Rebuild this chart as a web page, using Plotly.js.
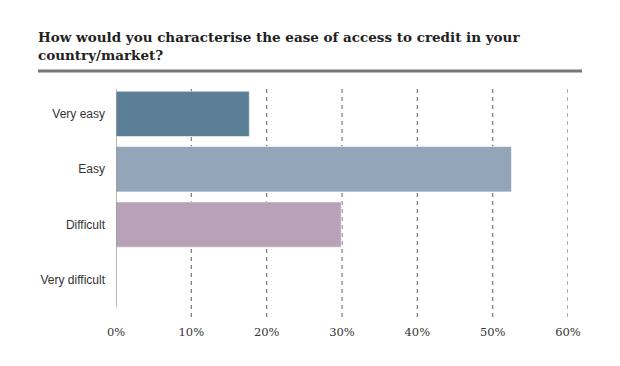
<!DOCTYPE html>
<html>
<head>
<meta charset="utf-8">
<script src="https://cdn.plot.ly/plotly-3.0.1.min.js"></script>
<style>html,body{margin:0;padding:0;background:#fff;}#chart{width:620px;height:366px;}</style>
</head>
<body>
<div id="chart"></div>
<script>
const categories = ["Very easy", "Easy", "Difficult", "Very difficult"];
const values = [17.7, 52.5, 29.9, 0];
const barColors = ["#5b7f97", "#93a5b8", "#b8a2b7", "#b8a2b7"];
const tickValues = [0, 10, 20, 30, 40, 50, 60];
const tickLabels = ["0%", "10%", "20%", "30%", "40%", "50%", "60%"];
const titleText = "How would you characterise the ease of access to credit in your<br>country/market?";

const gridShapes = tickValues.filter(v => v > 0).map(v => ({
  type: "line", xref: "x", yref: "paper", x0: v, x1: v, y0: 0, y1: 1,
  line: {color: "#7a7a7a", width: 1.2, dash: "4px,4px"}, layer: "below"
}));

const shapes = gridShapes.concat([
  {type: "line", xref: "x", yref: "y", x0: 0, x1: 0, y0: -0.45, y1: 3.5,
   line: {color: "#8a8a8a", width: 1.2}, layer: "above"},
  {type: "line", xref: "paper", yref: "paper", x0: -0.1726, x1: 1.031, y0: 1.079, y1: 1.079,
   line: {color: "#777777", width: 3}}
]);

const data = [{
  type: "bar",
  orientation: "h",
  y: categories,
  x: values,
  marker: {color: barColors, line: {color: "rgba(255,255,255,0.6)", width: 1}},
  hoverinfo: "none"
}];

const layout = {
  width: 620, height: 366,
  margin: {l: 116, r: 52, t: 89, b: 49},
  paper_bgcolor: "#fff", plot_bgcolor: "#fff",
  showlegend: false,
  bargap: 0.18,
  title: {
    text: titleText,
    x: 0.0613, xanchor: "left", xref: "container",
    y: 0.885, yanchor: "top", yref: "container",
    font: {family: "DejaVu Serif", size: 13.5, color: "#222", weight: "bold"}
  },
  xaxis: {
    range: [0, 60],
    tickvals: tickValues, ticktext: tickLabels,
    showgrid: false, zeroline: false, showline: false,
    ticks: "", ticklabelstandoff: 6,
    tickfont: {family: "DejaVu Serif", size: 11.5, color: "#333"},
    fixedrange: true
  },
  yaxis: {
    range: [3.67, -0.45],
    showgrid: false, zeroline: false, showline: false,
    ticks: "", ticklabelstandoff: 10,
    tickfont: {family: "Liberation Sans", size: 12, color: "#333"},
    fixedrange: true
  },
  shapes: shapes
};

Plotly.newPlot("chart", data, layout, {displayModeBar: false, staticPlot: true});
</script>
</body>
</html>
